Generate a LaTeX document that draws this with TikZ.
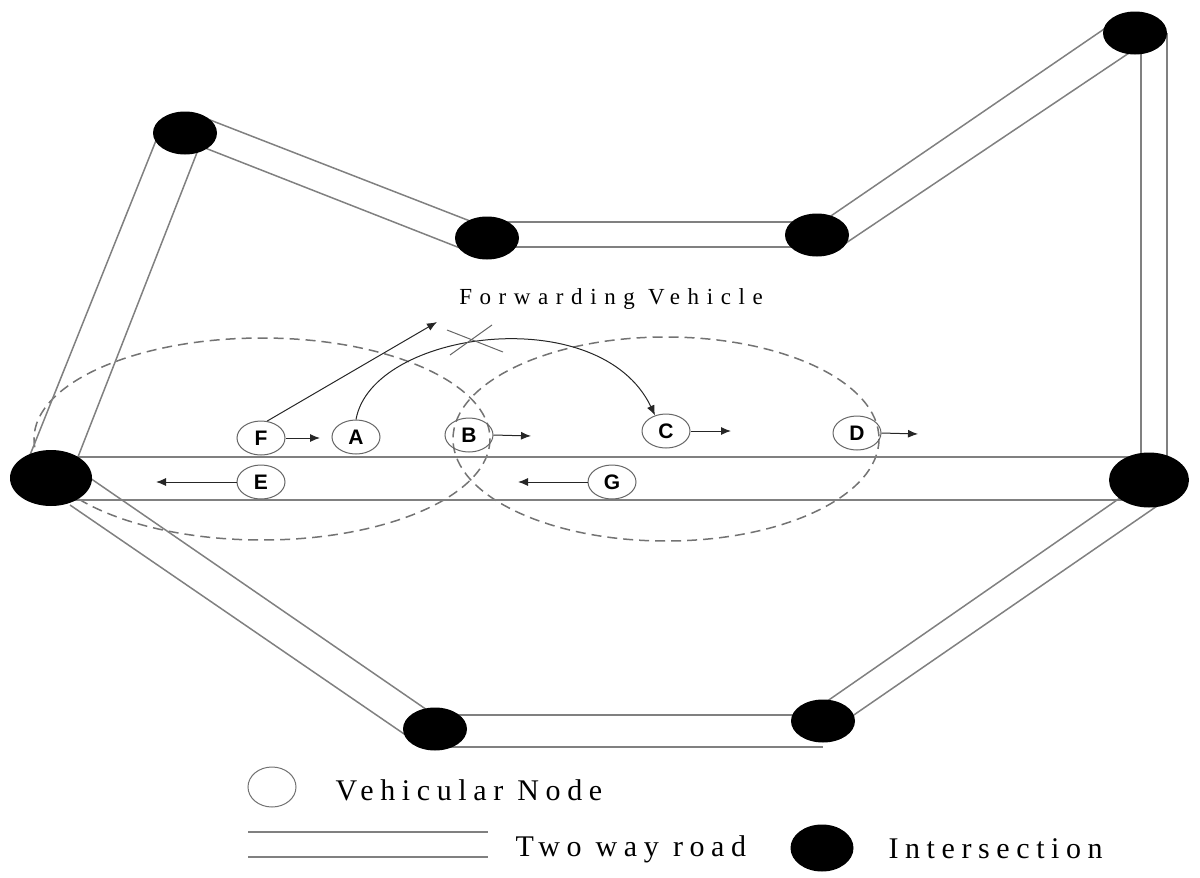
\documentclass[tikz,border=0pt]{standalone}
\usepackage{fontspec}
\setmainfont{Liberation Serif}
\newfontfamily\vfont{Liberation Sans}
\newfontfamily\spacedA[LetterSpace=33]{Liberation Serif}
\newfontfamily\spacedB[LetterSpace=22]{Liberation Serif}
\usetikzlibrary{shapes.geometric,arrows.meta,calc}
\tikzset{
  inter/.style={ellipse, fill=black, draw=none, inner sep=0pt, minimum width=64pt, minimum height=43pt},
  biginter/.style={inter, minimum width=82pt, minimum height=56pt},
  veh/.style={ellipse, draw=black!60, line width=1pt, inner sep=0pt, minimum width=48pt, minimum height=34pt,
    font=\vfont\bfseries\fontsize{21}{21}\selectfont},
  road/.style={draw=black!50, line width=1.5pt},
  txrange/.style={draw=black!55, dash pattern=on 10pt off 6pt, line width=1.5pt},
  arr/.style={-{Latex[length=10pt,width=8pt]}, line width=1pt, draw=black!85},
  cross/.style={draw=black!60, line width=1pt},
}
\begin{document}
\begin{tikzpicture}[x=1pt,y=-1pt]
\useasboundingbox (0,0) rectangle (1200,878);

% transmission ranges
\draw[txrange] (262,439) ellipse [x radius=228, y radius=101];
\draw[txrange] (666,439) ellipse [x radius=213, y radius=102];

% roads
\draw[road] (30,455) -- (157,138);  \draw[road] (76,462) -- (198,150);
\draw[road] (205,118) -- (470,221); \draw[road] (200,146) -- (460,248);
\draw[road] (487,222) -- (817,222); \draw[road] (487,247) -- (817,247);
\draw[road] (825,220) -- (1110,25); \draw[road] (840,247) -- (1135,49);
\draw[road] (1141,33) -- (1141,480); \draw[road] (1167,33) -- (1167,480);
\draw[road] (51,457) -- (1149,457); \draw[road] (51,500) -- (1149,500);
\draw[road] (823,704) -- (1130,491); \draw[road] (848,719) -- (1160,504);
\draw[road] (435,715) -- (823,715); \draw[road] (435,747) -- (823,747);
\draw[road] (90,478) -- (430,712); \draw[road] (70,505) -- (410,738);

% intersections
\node[biginter] (L) at (51,478) {};
\node[biginter, minimum width=80pt, minimum height=55pt] (R) at (1149,480) {};
\node[inter] (TL) at (185,133) {};
\node[inter] (TM) at (487,238) {};
\node[inter] (TRa) at (817,235) {};
\node[inter] (TRb) at (1135,33) {};
\node[inter] (BL) at (435,729) {};
\node[inter] (BR) at (823,721) {};

% vehicles
\node[veh] (F) at (261,438) {F};
\node[veh] (A) at (356,437) {A};
\node[veh] (B) at (469,435) {B};
\node[veh] (C) at (666,431) {C};
\node[veh] (D) at (857,433) {D};
\node[veh] (E) at (261,482) {E};
\node[veh] (G) at (612,482) {G};

% motion arrows
\coordinate (fa) at (320,438);
\coordinate (bb) at (531,436);
\coordinate (cc) at (731,431);
\coordinate (dd) at (918,434);
\coordinate (ee) at (156,482);
\coordinate (gg) at (518,482);
\draw[arr] (F.east) -- (fa);
\draw[arr] (B.east) -- (bb);
\draw[arr] (C.east) -- (cc);
\draw[arr] (D.east) -- (dd);
\draw[arr] (E.west) -- (ee);
\draw[arr] (G.west) -- (gg);

% forwarding
\coordinate (fv) at (437,322);
\draw[arr] (F.70) -- (fv);
\draw[arr] (A.north) .. controls (372,330) and (600,300) .. (C.125);
\coordinate (x1) at (450,355); \coordinate (x2) at (492,325);
\coordinate (x3) at (447,330); \coordinate (x4) at (503,352);
\draw[cross] (x1) -- (x2);
\draw[cross] (x3) -- (x4);
\node (fw) at (611,299) {\spacedA\fontsize{23}{23}\selectfont Forwarding Vehicle};

% legend
\node[ellipse, draw=black!55, line width=1pt, minimum width=48pt, minimum height=40pt, inner sep=0pt] (lv) at (272,787) {};
\node[anchor=base west] (lvt) at (332,800) {\spacedB\fontsize{30}{30}\selectfont Vehicular Node};
\coordinate (lr1) at (248,832); \coordinate (lr2) at (488,832);
\coordinate (lr3) at (248,857); \coordinate (lr4) at (488,857);
\draw[road] (lr1) -- (lr2);
\draw[road] (lr3) -- (lr4);
\node[anchor=base west] (lrt) at (512,856) {\spacedB\fontsize{30}{30}\selectfont Two way road};
\node[inter, minimum width=63pt, minimum height=47pt] (li) at (822,848) {};
\node[anchor=base west] (lit) at (885,858) {\spacedB\fontsize{30}{30}\selectfont Intersection};
\end{tikzpicture}
\end{document}
